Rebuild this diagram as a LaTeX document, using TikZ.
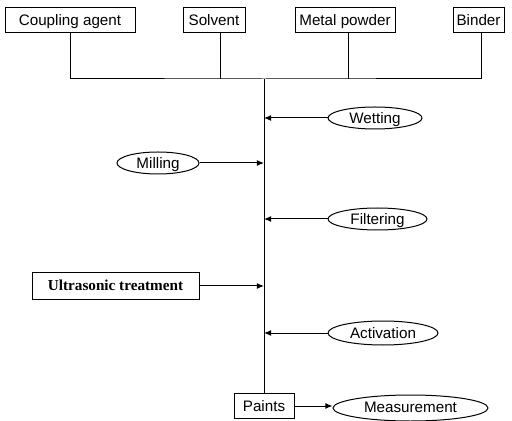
\documentclass[tikz,border=0pt]{standalone}
\usepackage{fontspec}
\setmainfont{Liberation Sans}
\newfontfamily\boldserif{Liberation Serif}
\usepackage{tikz}
\usetikzlibrary{arrows.meta}
\usetikzlibrary{shapes.geometric}

\tikzset{
		inbox/.style = {draw, rectangle, inner sep = 0 pt, minimum height = 12.5pt, text depth = 0.5pt},
		stepoval/.style = {draw, ellipse, inner sep = 0 pt, minimum height = 11pt, text depth = 0.5pt},
		feed/.style = {-{Latex[length=3.6pt,width=3pt]}}
}

\begin{document}
\begin{tikzpicture}[x=0.5pt, y=-0.5pt, line width=0.5pt, font=\fontsize{7.6}{9}\selectfont]
		\useasboundingbox (0,0) rectangle (512,421);

		% raw materials
		\foreach \n/\x/\w/\t in{
				coupling/70/130/Coupling agent,
				solvent/214/62/Solvent,
				metal/345/100/Metal powder,
				binder/478.5/51/Binder
		}{
		\node[inbox, minimum width = \w*0.5pt] (\n) at (\x,20.5){\t};
		}

		\coordinate (hub) at (264,79);
		\draw (coupling.south) |- (hub) -| ([xshift=1.5pt]binder.south);
		\draw ([xshift=3pt]solvent.south) -- ([xshift=3pt]solvent.south |- hub);
		\draw ([xshift=1.5pt]metal.south) -- ([xshift=1.5pt]metal.south |- hub);

		% process steps
		\node[stepoval, minimum width = 47pt] (wetting) at (375,118){Wetting};
		\node[stepoval, minimum width = 41pt] (milling) at (158,163){Milling};
		\node[stepoval, minimum width = 49.5pt] (filtering) at (377.5,219){Filtering};
		\node[inbox, minimum width = 83.5pt, minimum height = 13pt] (ultra) at (115.5,286){\boldserif\bfseries Ultrasonic treatment};
		\node[stepoval, minimum width = 55pt, minimum height = 12pt] (activation) at (383,333){Activation};
		\node[inbox, minimum width = 30pt] (paints) at (264,406){Paints};
		\node[stepoval, minimum width = 77.5pt, minimum height = 13pt] (measure) at (410.5,408){Measurement};

		\draw (hub) -- (paints.north);
		\draw[feed] (wetting.west) -- (wetting.west -| hub);
		\draw[feed] (milling.east) -- (milling.east -| hub);
		\draw[feed] (filtering.west) -- (filtering.west -| hub);
		\draw[feed] (ultra.east) -- (ultra.east -| hub);
		\draw[feed] (activation.west) -- (activation.west -| hub);
		\draw[feed] (paints.east) -- (paints.east -| measure.west);
\end{tikzpicture}
\end{document}
